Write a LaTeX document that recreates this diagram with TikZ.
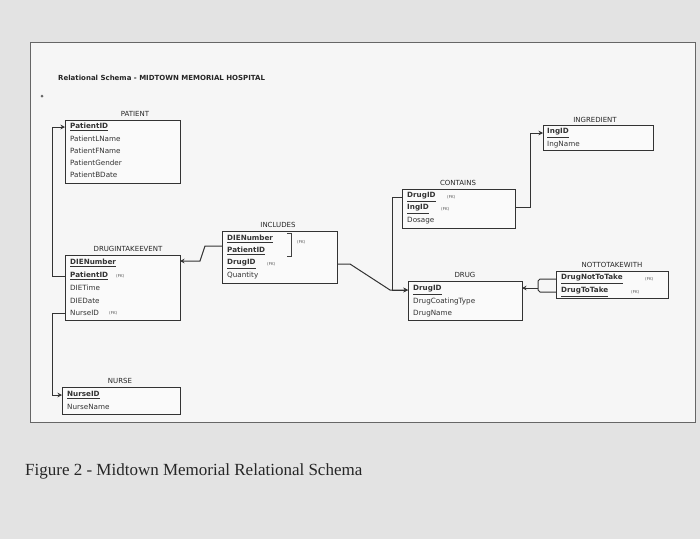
\documentclass[tikz,border=0pt]{standalone}
\usepackage{fontspec}
\setmainfont{DejaVu Sans}
\newfontfamily\capfont{Liberation Serif}
\usetikzlibrary{arrows.meta}
\newcommand\kf[1]{\underline{#1}}
\begin{document}
\begin{tikzpicture}[x=1pt,y=-1pt,
  tbl/.style={draw=black!80,line width=1pt,fill=white!96!gray},
  ttl/.style={font=\fontsize{7}{8}\selectfont,text=black!85,inner sep=0pt},
  fld/.style={font=\fontsize{7.2}{8}\selectfont,text=black!80,anchor=west,inner sep=0pt},
  key/.style={fld,font=\fontsize{7.2}{8}\selectfont\bfseries},
  fk/.style={font=\fontsize{4}{5}\selectfont,text=black!70,anchor=west,inner sep=0pt},
  con/.style={draw=black!80,line width=1pt},
  arr/.style={con,-{Stealth[length=4.5pt,width=4.5pt]}}]
\fill[gray!22] (0,0) rectangle (700,539);
\fill[white!93!gray] (30,42) rectangle (695,422);
\draw[black!60,line width=0.6pt] (30,42) rectangle (695,422);
\node[ttl,anchor=west,font=\fontsize{7}{8}\selectfont\bfseries] (title) at (58,78) {Relational Schema - MIDTOWN MEMORIAL HOSPITAL};
\fill[black!60] (42,96) circle (1.5);
\node[anchor=west,inner sep=0pt,font=\capfont\fontsize{17}{19}\selectfont,text=black!85] (cap) at (25,471) {Figure 2 - Midtown Memorial Relational Schema};
% PATIENT
\node[ttl] (tp) at (135,114) {PATIENT};
\draw[tbl] (65,120) rectangle (180,183);
\node[key] (p1) at (70,127) {\kf{PatientID}};
\node[fld] (p2) at (70,139) {PatientLName};
\node[fld] (p3) at (70,151) {PatientFName};
\node[fld] (p4) at (70,163) {PatientGender};
\node[fld] (p5) at (70,175) {PatientBDate};
\coordinate (pL) at (65,127);
% INGREDIENT
\node[ttl] (ti) at (595,120) {INGREDIENT};
\draw[tbl] (543,125) rectangle (653,150);
\node[key] (i1) at (547,133) {\kf{IngID}};
\node[fld] (i2) at (547,145) {IngName};
\coordinate (iL) at (543,133);
% CONTAINS
\node[ttl] (tc) at (458,183) {CONTAINS};
\draw[tbl] (402,189) rectangle (515,228);
\node[key] (c1) at (407,197) {\kf{DrugID}}; \node[fk] at (447,197) {(FK)};
\node[key] (c2) at (407,209) {\kf{IngID}}; \node[fk] at (441,209) {(FK)};
\node[fld] (c3) at (407,221) {Dosage};
\coordinate (cL) at (402,197); \coordinate (cR) at (515,207);
% INCLUDES
\node[ttl] (tn) at (278,225) {INCLUDES};
\draw[tbl] (222,231) rectangle (337,283);
\node[key] (n1) at (227,239) {\kf{DIENumber}};
\node[key] (n2) at (227,251) {\kf{PatientID}};
\node[key] (n3) at (227,264) {\kf{DrugID}}; \node[fk] at (267,264) {(FK)};
\node[fld] (n4) at (227,276) {Quantity};
\draw[black!75,line width=0.6pt] (287,233) -- (291,233) -- (291,256) -- (287,256);
\node[fk] at (297,242) {(FK)};
\coordinate (nL) at (222,246); \coordinate (nR) at (337,264);
% DRUGINTAKEEVENT
\node[ttl] (td) at (128,249) {DRUGINTAKEEVENT};
\draw[tbl] (65,255) rectangle (180,320);
\node[key] (d1) at (70,263) {\kf{DIENumber}};
\node[key] (d2) at (70,276) {\kf{PatientID}}; \node[fk] at (116,276) {(FK)};
\node[fld] (d3) at (70,288) {DIETime};
\node[fld] (d4) at (70,301) {DIEDate};
\node[fld] (d5) at (70,313) {NurseID}; \node[fk] at (109,313) {(FK)};
\coordinate (dL1) at (65,276); \coordinate (dL2) at (65,313); \coordinate (dR) at (180,261);
% DRUG
\node[ttl] (tg) at (465,275) {DRUG};
\draw[tbl] (408,281) rectangle (522,320);
\node[key] (g1) at (413,290) {\kf{DrugID}};
\node[fld] (g2) at (413,302) {DrugCoatingType};
\node[fld] (g3) at (413,314) {DrugName};
\coordinate (gL) at (408,290); \coordinate (gR) at (522,288);
% NOTTOTAKEWITH
\node[ttl] (tw) at (612,265) {NOTTOTAKEWITH};
\draw[tbl] (556,271) rectangle (668,298);
\node[key] (w1) at (561,279) {\kf{DrugNotToTake}}; \node[fk] at (645,279) {(FK)};
\node[key] (w2) at (561,292) {\kf{DrugToTake}}; \node[fk] at (631,292) {(FK)};
% NURSE
\node[ttl] (tu) at (120,381) {NURSE};
\draw[tbl] (62,387) rectangle (180,414);
\node[key] (u1) at (67,395) {\kf{NurseID}};
\node[fld] (u2) at (67,407) {NurseName};
\coordinate (uL) at (62,395);
% connectors
\draw[arr] (dL1) -- (52,276) -- (52,127) -- (pL);
\draw[arr] (dL2) -- (52,313) -- (52,395) -- (uL);
\draw[arr] (nL) -- (205,246) -- (200,261) -- (dR);
\draw[arr] (nR) -- (350,264) -- (390,290) -- (gL);
\draw[arr] (cL) -- (392,197) -- (392,290) -- (gL);
\draw[arr] (cR) -- (530,207) -- (530,133) -- (iL);
\draw[con] (556,279) -- (540,279) -- (538,281) -- (538,290) -- (540,292) -- (556,292);
\draw[arr] (538,288) -- (gR);
\end{tikzpicture}
\end{document}
